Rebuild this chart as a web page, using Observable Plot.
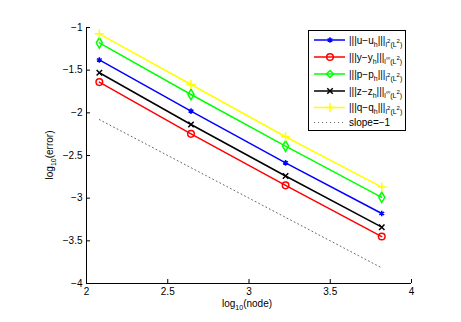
<!DOCTYPE html>
<html><head><meta charset="utf-8">
<script src="https://cdn.jsdelivr.net/npm/d3@7"></script>
<script src="https://cdn.jsdelivr.net/npm/@observablehq/plot@0.6"></script>
<style>body{margin:0;background:#fff;} svg{font-family:"Liberation Sans",Arial,sans-serif;}</style>
</head><body><div id="chart"></div>
<script>
const logNodes = [2.079, 2.643, 3.225, 3.817];
const errU = [-1.38, -1.98, -2.586, -3.18];
const errY = [-1.64, -2.246, -2.85, -3.45];
const errP = [-1.18, -1.785, -2.39, -2.99];
const errZ = [-1.53, -2.137, -2.74, -3.34];
const errQ = [-1.074, -1.668, -2.28, -2.87];
const slopeX = [2.079, 3.817];
const slopeY = [-2.079, -3.817];
const xTicks = [2, 2.5, 3, 3.5, 4];
const yTicks = [-1, -1.5, -2, -2.5, -3, -3.5, -4];

const seriesDefs = [
  {key: "u", vals: errU, color: "#0000ff", symbol: "asterisk", r: 2.6, norm: "2"},
  {key: "y", vals: errY, color: "#ff0000", symbol: "circle", r: 3.3, norm: "∞"},
  {key: "p", vals: errP, color: "#00ff00", symbol: "diamond", r: 3.2, norm: "2"},
  {key: "z", vals: errZ, color: "#000000", symbol: "times", r: 2.6, norm: "∞"},
  {key: "q", vals: errQ, color: "#ffff00", symbol: "plus", r: 3, norm: "2"}
];
const rows = seriesDefs.flatMap(s => s.vals.map((v, i) => ({key: s.key, x: logNodes[i], y: v})));
const slopeRows = slopeX.map((x, i) => ({x, y: slopeY[i]}));

const marks = [
  Plot.line(slopeRows, {x: "x", y: "y", stroke: "#666", strokeWidth: 1, strokeDasharray: "1,3"}),
  ...seriesDefs.map(s => Plot.line(rows.filter(r => r.key === s.key), {x: "x", y: "y", stroke: s.color, strokeWidth: 1.5})),
  ...seriesDefs.map(s => Plot.dot(rows.filter(r => r.key === s.key), {x: "x", y: "y", stroke: s.color, fill: s.symbol === "asterisk" ? s.color : "none", symbol: s.symbol, r: s.r, strokeWidth: 1.5})),
  Plot.axisX({ticks: xTicks, tickSize: -4, tickPadding: 8, tickFormat: d => String(d), label: null, fontSize: 10}),
  Plot.axisY({ticks: yTicks, tickSize: -4, tickPadding: 8, tickFormat: d => String(d).replace("-", "−"), label: null, fontSize: 10}),
  Plot.ruleX([2], {stroke: "#000"}),
  Plot.ruleY([-4], {stroke: "#000"})
];

const chart = Plot.plot({
  width: 461, height: 322,
  marginLeft: 86, marginRight: 50, marginTop: 27, marginBottom: 39,
  x: {domain: [2, 4]},
  y: {domain: [-4, -1]},
  style: {fontFamily: "Liberation Sans, Arial, sans-serif", fontSize: "10px", color: "#000"},
  marks
});
document.getElementById("chart").appendChild(chart);

const svg = d3.select(chart);
// axis labels
const xl = svg.append("text").attr("x", 247).attr("y", 307).attr("text-anchor", "middle").attr("font-size", 10).attr("fill", "#000");
xl.append("tspan").text("log");
xl.append("tspan").attr("dy", 3).attr("font-size", 7).text("10");
xl.append("tspan").attr("dy", -3).text("(node)");
const yl = svg.append("text").attr("transform", "translate(53,155) rotate(-90)").attr("text-anchor", "middle").attr("font-size", 10).attr("fill", "#000");
yl.append("tspan").text("log");
yl.append("tspan").attr("dy", 3).attr("font-size", 7).text("10");
yl.append("tspan").attr("dy", -3).text("(error)");

// legend
const symMap = {asterisk: d3.symbolAsterisk, circle: d3.symbolCircle, diamond: d3.symbolDiamond2, times: d3.symbolTimes, plus: d3.symbolPlus};
const lg = svg.append("g");
lg.append("rect").attr("x", 308.5).attr("y", 30.5).attr("width", 97).attr("height", 100).attr("fill", "#fff").attr("stroke", "#000").attr("stroke-width", 1);
const rowY = [40, 57, 74, 91, 107.5];
seriesDefs.forEach((s, i) => {
  const y = rowY[i];
  lg.append("line").attr("x1", 314).attr("x2", 345).attr("y1", y).attr("y2", y).attr("stroke", s.color).attr("stroke-width", 1.5);
  lg.append("path").attr("transform", `translate(330,${y})`).attr("d", d3.symbol(symMap[s.symbol], Math.PI * s.r * s.r)()).attr("stroke", s.color).attr("stroke-width", 1.5).attr("fill", s.symbol === "asterisk" ? s.color : "none");
  const t = lg.append("text").attr("x", 349).attr("y", y + 3.5).attr("font-size", 10).attr("fill", "#000").attr("text-anchor", "start");
  t.append("tspan").text(`|||${s.key}−${s.key}`);
  t.append("tspan").attr("dy", 3).attr("font-size", 7).text("h");
  t.append("tspan").attr("dy", -3).text("|||");
  t.append("tspan").attr("dy", 3).attr("font-size", 7).text("l");
  t.append("tspan").attr("dy", -4).attr("font-size", 6).text(s.norm);
  t.append("tspan").attr("dy", 4).attr("font-size", 7).text("(L");
  t.append("tspan").attr("dy", -4).attr("font-size", 6).text("2");
  t.append("tspan").attr("dy", 4).attr("font-size", 7).text(")");
});
lg.append("line").attr("x1", 314).attr("x2", 345).attr("y1", 122.5).attr("y2", 122.5).attr("stroke", "#666").attr("stroke-width", 1).attr("stroke-dasharray", "1,3");
lg.append("text").attr("x", 349).attr("y", 126).attr("font-size", 10).attr("fill", "#000").attr("text-anchor", "start").text("slope=−1");
</script></body></html>
